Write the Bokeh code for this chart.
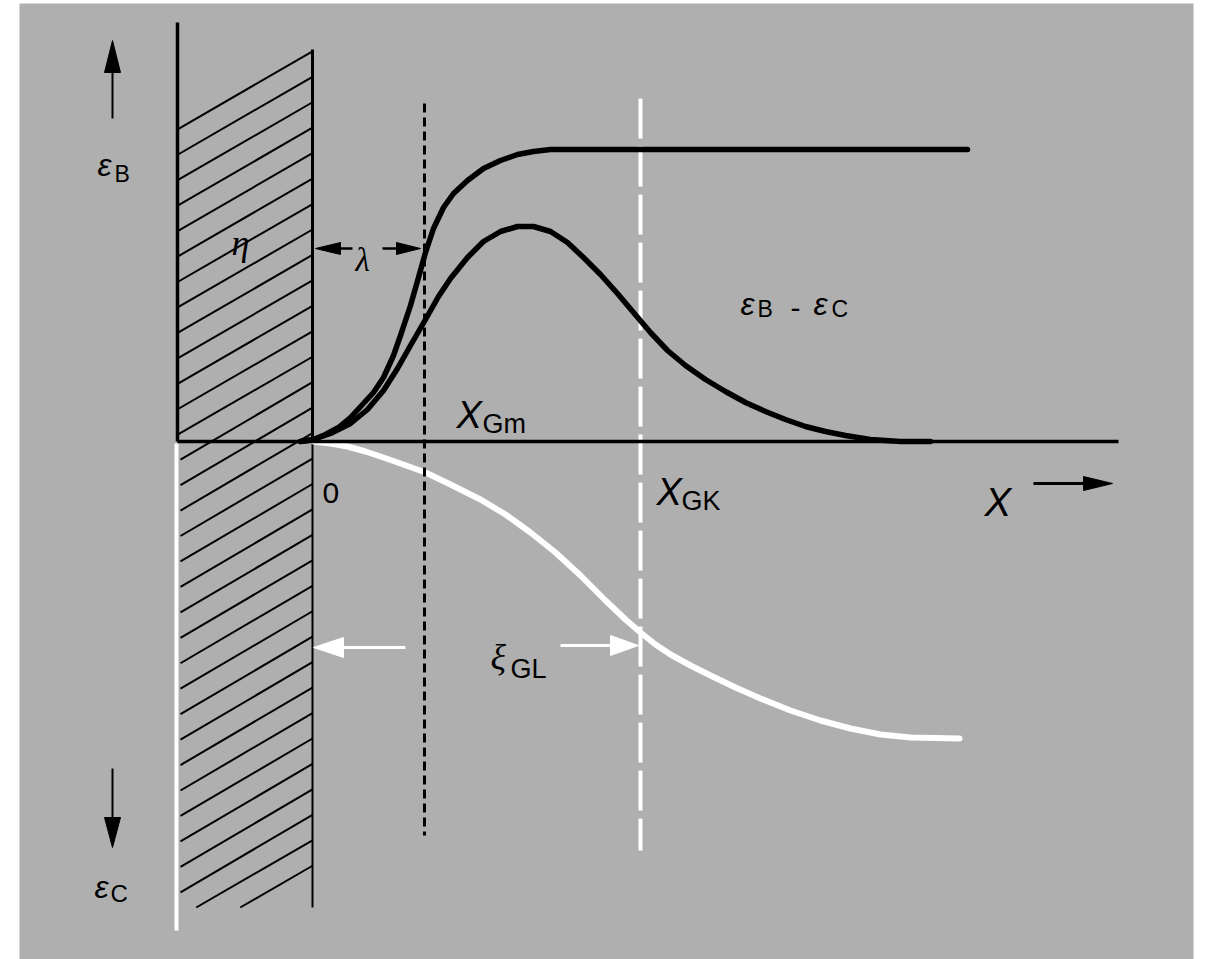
from bokeh.plotting import figure
from bokeh.models import Range1d
from bokeh.core.properties import value
from bokeh.embed import file_html
from bokeh.resources import INLINE

# ---------------- data (diagram units: x=0 at the wall, y=0 on the X axis) ----------------
# epsilon_B : rises from the wall and saturates
eb_x = [-0.12, 0.01, 0.13, 0.26, 0.38, 0.50, 0.61, 0.71, 0.81, 0.88, 0.98, 1.06, 1.13,
        1.21, 1.31, 1.41, 1.55, 1.71, 1.88, 2.05, 2.21, 2.38, 6.55]
eb_y = [0.00, 0.02, 0.07, 0.14, 0.24, 0.37, 0.49, 0.64, 0.86, 1.06, 1.36, 1.64, 1.89,
        2.13, 2.34, 2.48, 2.61, 2.73, 2.81, 2.87, 2.90, 2.92, 2.92]
# epsilon_B - epsilon_C : bump
ebc_x = [-0.12, 0.01, 0.18, 0.38, 0.55, 0.71, 0.85, 0.98, 1.13, 1.26, 1.38, 1.55, 1.71,
         1.88, 2.05, 2.21, 2.38, 2.55, 2.71, 2.88, 3.05, 3.21, 3.38, 3.55, 3.73, 3.93,
         4.13, 4.33, 4.53, 4.73, 4.93, 5.13, 5.33, 5.58, 5.88, 6.18]
ebc_y = [0.00, 0.02, 0.08, 0.18, 0.32, 0.51, 0.73, 0.96, 1.22, 1.45, 1.63, 1.84, 2.00,
         2.10, 2.15, 2.15, 2.10, 1.99, 1.84, 1.67, 1.48, 1.29, 1.09, 0.91, 0.76, 0.62,
         0.50, 0.39, 0.30, 0.22, 0.15, 0.10, 0.06, 0.02, 0.00, 0.00]
# epsilon_C : drawn downwards (white)
ec_x = [0.01, 0.18, 0.35, 0.53, 0.68, 0.88, 1.13, 1.38, 1.68, 1.93, 2.18, 2.43, 2.68, 2.93,
        3.13, 3.28, 3.43, 3.58, 3.78, 3.98, 4.23, 4.48, 4.78, 5.08, 5.38, 5.68, 5.98, 6.47]
ec_y = [0.00, -0.02, -0.05, -0.10, -0.15, -0.22, -0.31, -0.43, -0.58, -0.73, -0.91, -1.11,
        -1.34, -1.59, -1.78, -1.91, -2.03, -2.13, -2.24, -2.34, -2.46, -2.57, -2.69, -2.79,
        -2.87, -2.93, -2.96, -2.97]
x_Gm = 1.12
x_GK = 3.28

# ---------------- layout helpers (page pixels -> diagram units) ----------------
def X(px):
    return (px - 312) / 100.0


def Y(py):
    return (441 - py) / 100.0


GRAY = "#afafaf"

p = figure(width=1207, height=959, x_range=Range1d(X(0), X(1207)), y_range=Range1d(Y(959), Y(0)),
           output_backend="svg", toolbar_location=None, min_border=0,
           x_axis_location=None, y_axis_location=None)
p.min_border_left = p.min_border_right = p.min_border_top = p.min_border_bottom = 0
p.xgrid.visible = False
p.ygrid.visible = False
p.outline_line_color = None
p.background_fill_color = "white"
p.border_fill_color = "white"

# halftone-like gray background
p.quad(left=X(19), right=X(1193), top=Y(3), bottom=Y(959), fill_color=GRAY, line_color=None)

# hatched wall region
x_l, x_r = 178, 312
slope = 0.578
x0s, y0s, x1s, y1s = [], [], [], []
k = 0
while True:
    yl = 128.3 + 25.45 * k
    yr = yl - slope * (x_r - x_l)
    if yr > 880:
        break
    lx = x_l if yl <= 441 else 180
    ly = yl
    if yl > 907:
        lx = x_l + (yl - 907) / slope
        ly = 907
    x0s.append(X(lx)); y0s.append(Y(ly)); x1s.append(X(x_r)); y1s.append(Y(yr))
    k += 1
p.segment(x0s, y0s, x1s, y1s, line_color="black", line_width=2)

# wall right edge
p.line([X(312), X(312)], [Y(49), Y(441)], line_color="black", line_width=3)
p.line([X(312), X(312)], [Y(441), Y(907)], line_color="black", line_width=2)

# vertical axes
p.line([X(177), X(177)], [Y(22), Y(441)], line_color="black", line_width=3.5)
p.line([X(176), X(176)], [Y(443), Y(930)], line_color="white", line_width=4)

# white dashed line at X_GK
p.line([x_GK, x_GK], [Y(98), Y(850)], line_color="white", line_width=4, line_dash="40 8")

# white epsilon_C curve
p.line(ec_x, ec_y, line_color="white", line_width=6, line_join="round", line_cap="round")

# X axis
p.line([X(177), X(1118)], [0, 0], line_color="black", line_width=3.5)

# dashed line at X_Gm
p.line([x_Gm, x_Gm], [Y(103), Y(835)], line_color="black", line_width=3, line_dash="9 5")

# black curves
p.line(eb_x, eb_y, line_color="black", line_width=5.5, line_join="round", line_cap="round")
p.line(ebc_x, ebc_y, line_color="black", line_width=5.5, line_join="round", line_cap="round")


# arrows
def head(tx, ty, direction, length, hw, color):
    if direction == "up":
        xs = [tx, tx - hw, tx + hw]; ys = [ty, ty + length, ty + length]
    elif direction == "down":
        xs = [tx, tx - hw, tx + hw]; ys = [ty, ty - length, ty - length]
    elif direction == "left":
        xs = [tx, tx + length, tx + length]; ys = [ty, ty - hw, ty + hw]
    else:
        xs = [tx, tx - length, tx - length]; ys = [ty, ty - hw, ty + hw]
    p.patch([X(v) for v in xs], [Y(v) for v in ys], fill_color=color, line_color=color, line_width=1)


def shaft(xa, ya, xb, yb, color, w):
    p.line([X(xa), X(xb)], [Y(ya), Y(yb)], line_color=color, line_width=w)


# epsilon_B up arrow
shaft(112, 70, 112, 118, "black", 2)
head(112, 40, "up", 32, 8, "black")
# epsilon_C down arrow
shaft(112, 768, 112, 820, "black", 2)
head(112, 847, "down", 30, 8, "black")
# lambda arrows
shaft(338, 248, 352, 248, "black", 2.5)
head(315, 248, "left", 25, 6, "black")
shaft(382, 248, 397, 248, "black", 2.5)
head(420, 248, "right", 24, 6, "black")
# xi_GL arrows (white)
shaft(340, 647, 405, 647, "white", 3)
head(313, 647, "left", 30, 10, "white")
shaft(560, 645, 612, 645, "white", 3)
head(638, 645, "right", 28, 10, "white")
# X arrow
shaft(1033, 483, 1086, 483, "black", 3)
head(1112, 483, "right", 29, 7, "black")


# texts
def txt(s, px, py, size, font="Liberation Sans", style="normal"):
    p.text(x=[X(px)], y=[Y(py)], text=[s], text_font=value(font), text_font_size=f"{size}px",
           text_font_style=style, text_align="left", text_baseline="alphabetic", text_color="black")


SANS = "Liberation Sans"
SERIF = "Liberation Serif"
txt("ε", 97, 164, 32, SANS, "italic")
txt("B", 114, 173, 23)
txt("ε", 94, 886, 32, SANS, "italic")
txt("C", 110, 893, 24)
txt("η", 231, 242, 36, SERIF, "italic")
txt("λ", 355, 259, 33, SERIF, "italic")
txt("0", 322, 492, 30)
txt("X", 456, 414, 38, style="italic")
txt("Gm", 482, 423, 27)
txt("X", 656, 491, 38, style="italic")
txt("GK", 681, 500, 27)
txt("ε", 740, 303, 32, SANS, "italic")
txt("B", 757, 308, 23)
txt("-", 790, 307, 30)
txt("ε", 813, 303, 32, SANS, "italic")
txt("C", 831, 308, 23)
txt("X", 984, 501, 40, style="italic")
txt("ξ", 490, 656, 36, SERIF, "italic")
txt("GL", 510, 668, 27)

open("out.html", "w").write(file_html(p, INLINE))
